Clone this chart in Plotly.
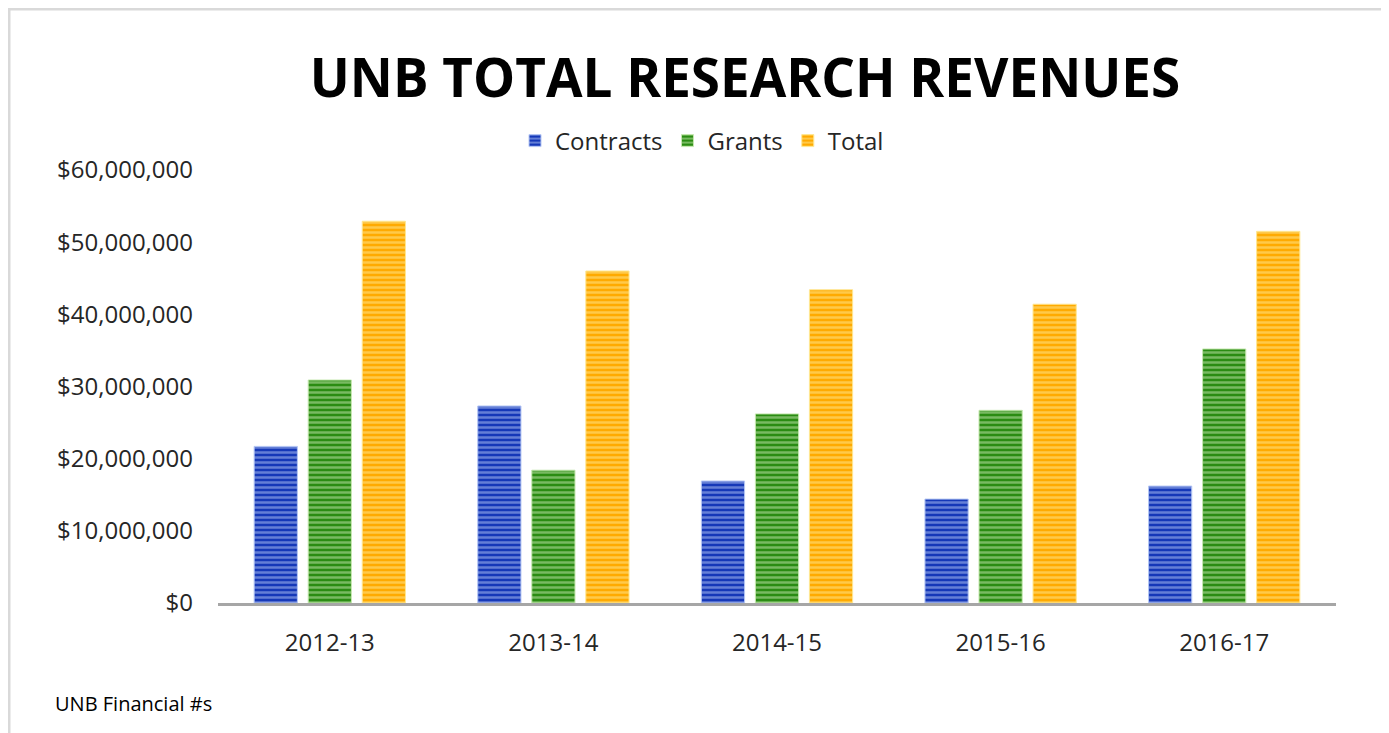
import plotly.graph_objects as go

years = ["2012-13", "2013-14", "2014-15", "2015-16", "2016-17"]
contracts = [21700000, 27300000, 16900000, 14400000, 16200000]
grants = [30900000, 18400000, 26200000, 26700000, 35200000]
total = [52900000, 46000000, 43400000, 41400000, 51500000]
tick_vals = [0, 10000000, 20000000, 30000000, 40000000, 50000000, 60000000]
tick_text = ["$0", "$10,000,000", "$20,000,000", "$30,000,000", "$40,000,000", "$50,000,000", "$60,000,000"]

series = [
    ("Contracts", contracts, "#1538B8", "#B4C6F4"),
    ("Grants", grants, "#2A8C12", "#C6E8B0"),
    ("Total", total, "#FFAA00", "#FFE792"),
]

fig = go.Figure()
for name, vals, dark, light in series:
    fig.add_trace(go.Bar(
        name=name, x=years, y=vals,
        marker=dict(
            color=dark,
            line=dict(width=1, color=light),
            pattern=dict(shape="-", bgcolor=dark, fgcolor=light, size=5, solidity=0.5, fillmode="overlay"),
        ),
    ))

# page body has an 8px margin; screen coordinates are shifted by OFF
OFF = 8
W, H = 1389 - OFF, 733 - OFF
L, R, T, B = 218 - OFF, 53, 170 - OFF, 130
pw, ph = W - L - R, H - T - B

def px(x):
    return (x - OFF - L) / pw

def py(y):
    return (H - B - (y - OFF)) / ph

fig.update_layout(
    width=W, height=H,
    margin=dict(l=L, r=R, t=T, b=B),
    paper_bgcolor="white", plot_bgcolor="white",
    barmode="group", bargap=0.275, bargroupgap=0.2,
    font=dict(family="Open Sans", size=24, color="#262626"),
    title=dict(text="<b>UNB TOTAL RESEARCH REVENUES</b>", x=(745 - OFF) / W, xanchor="center",
               y=1 - (78 - OFF) / H, yanchor="middle",
               font=dict(family="Open Sans", size=53, color="#000000")),
    legend=dict(orientation="h", x=px(702), xanchor="center", y=py(141), yanchor="middle",
                font=dict(size=24, color="#262626"), itemwidth=30, traceorder="normal"),
    xaxis=dict(showgrid=False, showline=True, linecolor="#A6A6A6", linewidth=3,
               ticks="", tickfont=dict(size=24, color="#262626"), ticklabelstandoff=16),
    yaxis=dict(range=[0, 60000000], showgrid=False, showline=False, zeroline=False,
               tickvals=tick_vals, ticktext=tick_text, ticks="",
               tickfont=dict(size=24, color="#262626"), ticklabelstandoff=24),
    showlegend=True,
)

fig.add_annotation(text="UNB Financial #s", xref="paper", yref="paper",
                   x=px(53), y=py(703), xanchor="left", yanchor="middle",
                   showarrow=False, font=dict(size=20, color="#000000"))

fig.add_shape(type="rect", xref="paper", yref="paper",
              x0=px(9), x1=px(1387), y0=py(745), y1=py(9),
              line=dict(color="#D9D9D9", width=3), fillcolor="rgba(0,0,0,0)", layer="below")

fig.write_html("out.html")
